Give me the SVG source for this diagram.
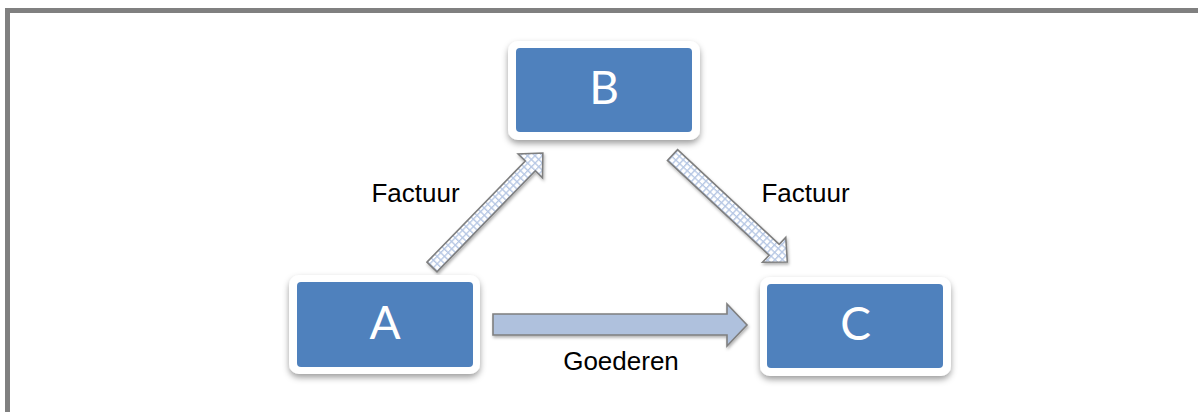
<svg xmlns="http://www.w3.org/2000/svg" width="1198" height="412" viewBox="0 0 1198 412">
  <style>
    .card { fill: #ffffff; filter: url(#shadow); }
    .box { fill: #4F81BD; }
    .lbl { font-family: Lato, "Open Sans", sans-serif; font-size: 46px; fill: #ffffff; text-anchor: middle; }
    .txt { font-family: "Liberation Sans", Arial, sans-serif; font-size: 26px; fill: #000000; text-anchor: middle; }
    .hatch { fill: url(#grid); stroke: #7F7F7F; stroke-width: 1.6; stroke-linejoin: miter; }
    .solid { fill: #AFC1DD; stroke: #7F7F7F; stroke-width: 1.6; }
  </style>
  <defs>
    <filter id="shadow" x="-20%" y="-20%" width="140%" height="150%">
      <feDropShadow dx="0" dy="3.5" stdDeviation="3" flood-color="#000" flood-opacity="0.38"/>
    </filter>
    <filter id="ashadow" x="-20%" y="-30%" width="140%" height="160%">
      <feDropShadow dx="1" dy="2" stdDeviation="1.5" flood-color="#000" flood-opacity="0.3"/>
    </filter>
    <pattern id="grid" patternUnits="userSpaceOnUse" width="5.2" height="5.2" x="0" y="0.8">
      <rect width="5.2" height="5.2" fill="#ffffff"/>
      <path d="M0 0.7 H5.2 M0.7 0 V5.2" stroke="#B6C7E4" stroke-width="1.4" fill="none"/>
    </pattern>
  </defs>

  <rect x="7.5" y="10.5" width="1200" height="410" fill="#ffffff" stroke="#808080" stroke-width="5"/>

  <g id="connectors">
    <g id="edge-A-B" filter="url(#ashadow)">
      <polygon class="hatch" transform="translate(432,267) rotate(-45.8)" points="0,-7 141,-7 141,-17 159,0 141,17 141,7 0,7"/>
    </g>
    <g id="edge-B-C" filter="url(#ashadow)">
      <polygon class="hatch" transform="translate(672.5,155) rotate(43)" points="0,-7.4 139,-7.4 139,-17 157,0 139,17 139,7.4 0,7.4"/>
    </g>
    <g id="edge-A-C" filter="url(#ashadow)">
      <polygon class="solid" points="493,314 727,314 727,304 747,325 727,346 727,335 493,335"/>
    </g>
    <text class="txt" x="415.5" y="202">Factuur</text>
    <text class="txt" x="805.5" y="202">Factuur</text>
    <text class="txt" x="621" y="370">Goederen</text>
  </g>

  <g id="node-B">
    <rect class="card" x="508" y="41" width="192" height="99" rx="10"/>
    <rect class="box" x="516" y="48" width="176" height="84" rx="4"/>
    <text class="lbl" x="604" y="104">B</text>
  </g>
  <g id="node-A">
    <rect class="card" x="289" y="275" width="191" height="99" rx="10"/>
    <rect class="box" x="297" y="282" width="176" height="85" rx="4"/>
    <text class="lbl" x="385" y="339">A</text>
  </g>
  <g id="node-C">
    <rect class="card" x="760" y="277" width="191" height="99" rx="10"/>
    <rect class="box" x="767" y="284" width="176" height="84" rx="4"/>
    <text class="lbl" x="855.5" y="340">C</text>
  </g>
</svg>
